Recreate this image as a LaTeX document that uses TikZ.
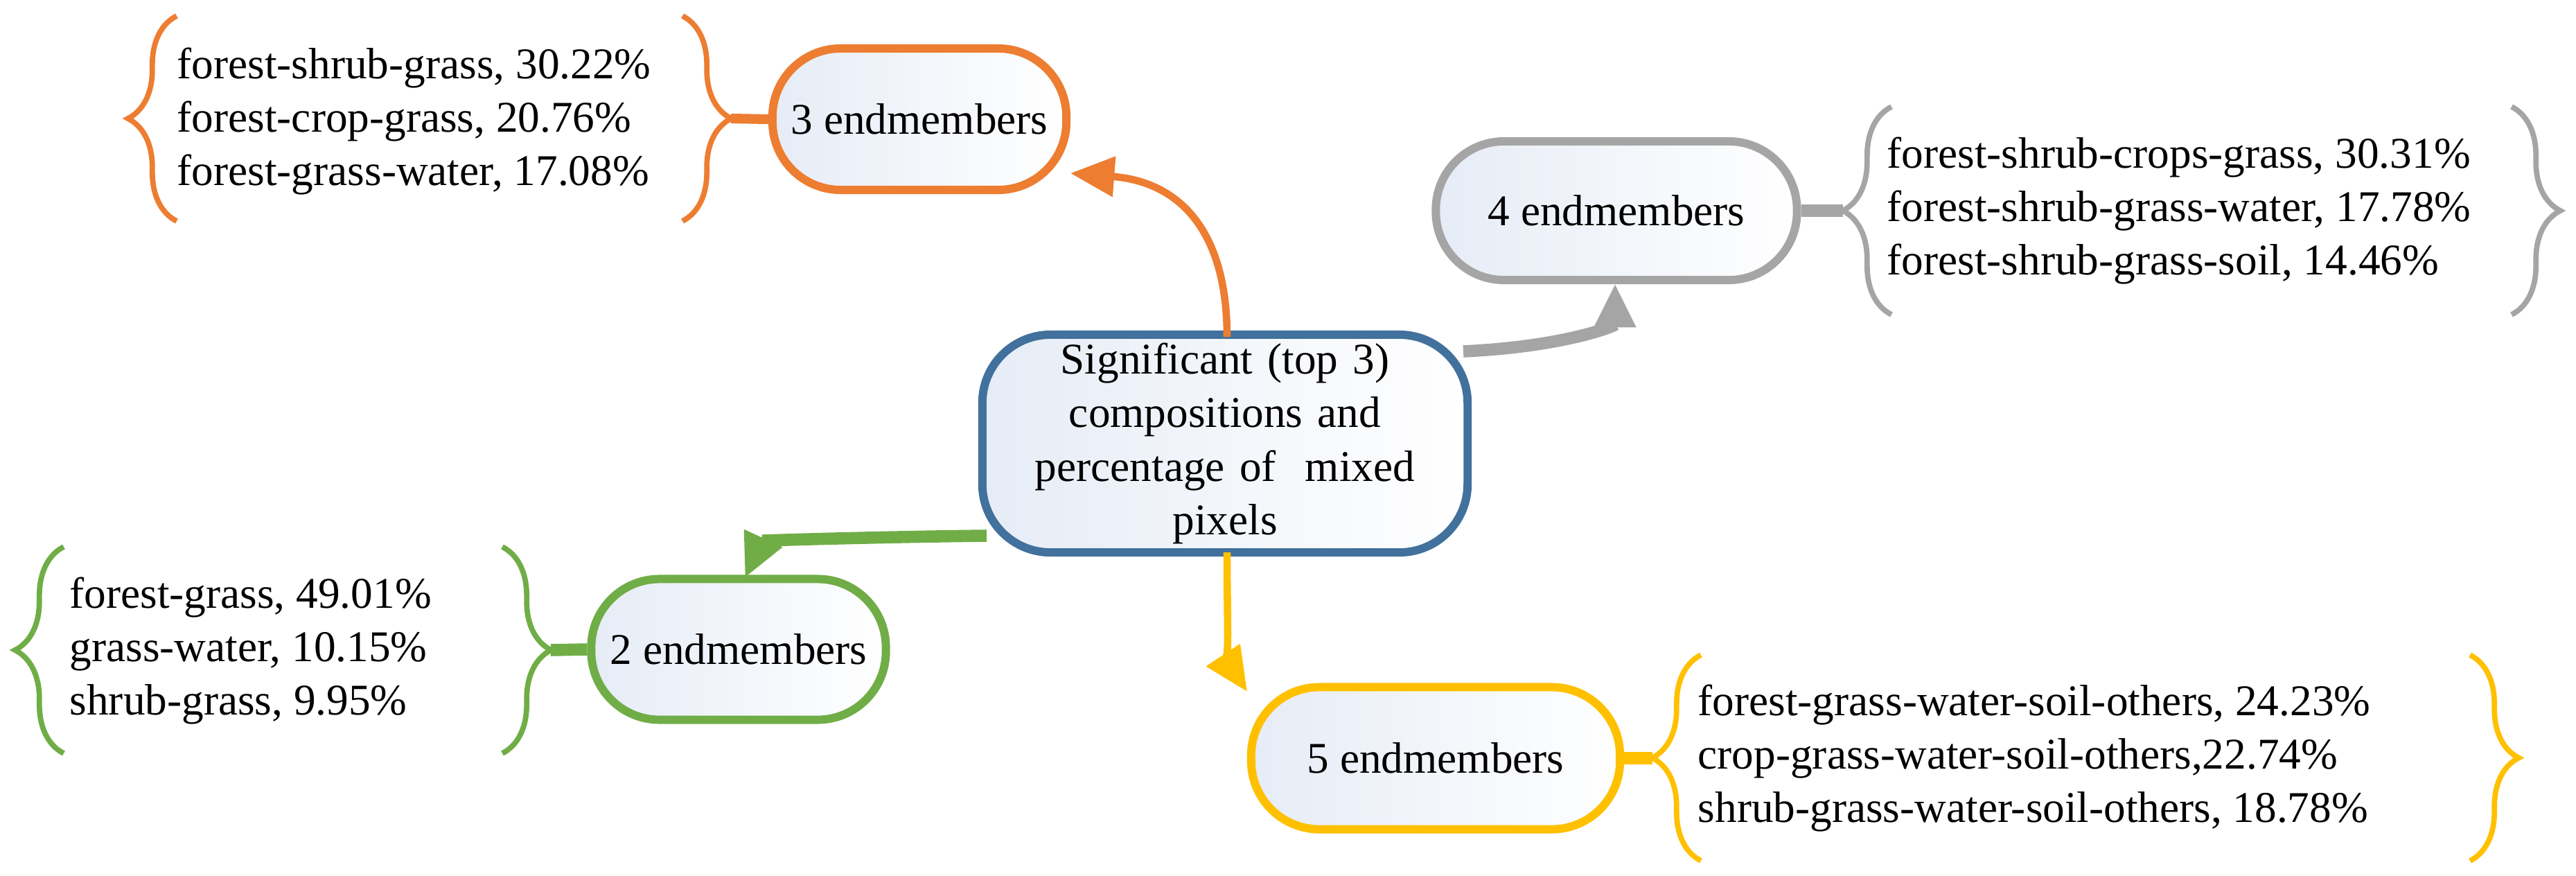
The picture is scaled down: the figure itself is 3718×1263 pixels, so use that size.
\documentclass[tikz,border=0pt]{standalone}
\usepackage{fontspec}
\setmainfont{Liberation Serif}
\newfontfamily\libser{Liberation Serif}
\usetikzlibrary{arrows.meta,decorations.pathreplacing,calc}
\definecolor{cor}{HTML}{ED7D31}
\definecolor{cgr}{HTML}{A5A5A5}
\definecolor{cbl}{HTML}{41719C}
\definecolor{cgn}{HTML}{70AD47}
\definecolor{cye}{HTML}{FFC000}
\definecolor{cfill}{HTML}{E6ECF6}
\begin{document}
\begin{tikzpicture}[x=0.01cm,y=-0.01cm,
  box/.style={draw=#1,line width=3.4pt,rounded corners=28pt,left color=cfill,right color=white,inner sep=0pt,font=\libser\fontsize{18}{22}\selectfont,align=center},
  list/.style={anchor=west,align=left,inner sep=0pt,font=\libser\fontsize{18}{22}\selectfont},
  brc/.style={draw=#1,line width=2.2pt,decorate,decoration={brace,amplitude=20pt,aspect=0.5}},
  conn/.style={draw=#1,line width=3pt},
  arr/.style={draw=#1,line width=3pt,-{Triangle[length=18pt,width=16pt]}}]
\useasboundingbox (0,0) rectangle (3718,1263);
% central
\node[box=cbl,minimum width=7cm,minimum height=3.14cm,text width=6.4cm] (c) at (1768,640) {Significant (top 3)\\compositions and\\percentage of \ mixed\\pixels};
% boxes
\node[box=cor,minimum width=4.24cm,minimum height=2.04cm] (b3) at (1327,172) {3 endmembers};
\node[box=cgr,minimum width=5.21cm,minimum height=2.0cm] (b4) at (2333,304) {4 endmembers};
\node[box=cgn,minimum width=4.25cm,minimum height=2.03cm] (b2) at (1066,937) {2 endmembers};
\node[box=cye,minimum width=5.32cm,minimum height=2.05cm] (b5) at (2072,1094) {5 endmembers};
% lists
\node[list] (l3) at (255,175) {forest-shrub-grass, 30.22\%\\forest-crop-grass, 20.76\%\\forest-grass-water, 17.08\%};
\node[list] (l4) at (2723,304) {forest-shrub-crops-grass, 30.31\%\\forest-shrub-grass-water, 17.78\%\\forest-shrub-grass-soil, 14.46\%};
\node[list] (l2) at (100,939) {forest-grass, 49.01\%\\grass-water, 10.15\%\\shrub-grass, 9.95\%};
\node[list] (l5) at (2450,1094) {forest-grass-water-soil-others, 24.23\%\\crop-grass-water-soil-others,22.74\%\\shrub-grass-water-soil-others, 18.78\%};
% braces
\draw[brc=cor] (255,319) -- (255,23);
\draw[brc=cor] (985,23) -- (985,319);
\coordinate (t3) at (1055,171);
\draw[brc=cgr] (2730,454) -- (2730,154);
\draw[brc=cgr] (3625,154) -- (3625,454);
\coordinate (t4) at (2660,304);
\draw[brc=cgn] (92,1087) -- (92,789);
\draw[brc=cgn] (725,789) -- (725,1087);
\coordinate (t2) at (795,938);
\draw[brc=cye] (2455,1242) -- (2455,945);
\draw[brc=cye] (3565,945) -- (3565,1242);
\coordinate (t5) at (2385,1094);
% brace connectors
\draw[conn=cor,line width=4pt] (t3) -- (b3.west);
\draw[conn=cgr,line width=5pt] (b4.east) -- (t4);
\draw[conn=cgn,line width=5pt] (t2) -- (b2.west);
\draw[conn=cye,line width=5pt] (b5.east) -- (t5);
% arrows
\coordinate (co) at (1771,486);
\coordinate (cy) at (1771,797);
\coordinate (cg) at (1424,773);
\coordinate (cr) at (2112,507);
\draw[arr=cor] (co) .. controls (1771,330) and (1700,262) .. (1545,250);
\draw[arr=cgr,line width=5pt] (cr) .. controls (2260,500) and (2331,470) .. (2331,409);
\draw[arr=cgn,line width=5pt] (cg) .. controls (1250,775) and (1100,780) .. (1075,834);
\draw[arr=cye] (cy) .. controls (1771,900) and (1775,960) .. (1800,998);
\end{tikzpicture}
\end{document}
